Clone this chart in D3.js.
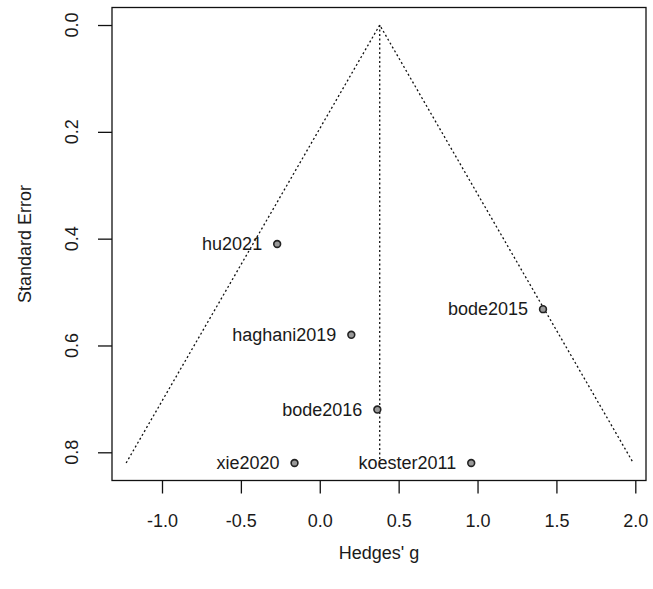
<!DOCTYPE html>
<html><head><meta charset="utf-8">
<script src="https://cdn.jsdelivr.net/npm/d3@7"></script>
<style>body{margin:0;background:#fff}svg{display:block}text{font-family:"Liberation Sans",Arial,sans-serif;fill:#1a1a1a}</style>
</head><body><svg id="c" width="653" height="589"></svg>
<script>
const studies = ["hu2021","bode2015","haghani2019","bode2016","xie2020","koester2011"];
const hedgesG = [-0.27, 1.415, 0.20, 0.365, -0.16, 0.96];
const stdErr = [0.41, 0.532, 0.58, 0.72, 0.82, 0.82];
const pooled = 0.38;
const xTicks = [-1.0,-0.5,0.0,0.5,1.0,1.5,2.0];
const yTicks = [0.0,0.2,0.4,0.6,0.8];

const FS = 18;
const svg = d3.select("#c");
const L=112, R=646, T=7.5, B=480.5;
const xs = d3.scaleLinear().domain([-1,2]).range([162,635.3]);
const seMax = d3.max(stdErr);
const ys = d3.scaleLinear().domain([-0.04*seMax, seMax*1.04]).range([T,B]);

// funnel
const z = 1.96;
const fun = [[pooled - z*seMax, seMax],[pooled,0],[pooled + z*seMax, seMax]];
svg.append("path").attr("d", d3.line().x(d=>xs(d[0])).y(d=>ys(d[1]))(fun))
  .attr("fill","none").attr("stroke","#111").attr("stroke-width",1.3).attr("stroke-dasharray","2,2.5");
svg.append("line").attr("x1",xs(pooled)).attr("x2",xs(pooled)).attr("y1",ys(0)).attr("y2",ys(seMax))
  .attr("stroke","#111").attr("stroke-width",1.3).attr("stroke-dasharray","2,2.5");

// points
const g = svg.append("g");
studies.forEach((s,i)=>{
  g.append("circle").attr("cx",xs(hedgesG[i])).attr("cy",ys(stdErr[i])).attr("r",3.4)
   .attr("fill","#999").attr("stroke","#222").attr("stroke-width",1.6);
  g.append("text").attr("x",xs(hedgesG[i])-15).attr("y",ys(stdErr[i])).attr("dy","0.35em")
   .attr("text-anchor","end").attr("font-size",FS).text(s);
});

// box
svg.append("rect").attr("x",L).attr("y",T).attr("width",R-L).attr("height",B-T)
  .attr("fill","none").attr("stroke","#111").attr("stroke-width",1.3);

// x axis
const xa = svg.append("g").attr("transform",`translate(0,${B})`)
  .call(d3.axisBottom(xs).tickValues(xTicks).tickSize(13).tickFormat(d3.format(".1f")));
xa.select(".domain").remove();
xa.selectAll("line").attr("stroke","#111").attr("stroke-width",1.3);
xa.selectAll("text").attr("font-size",FS).attr("fill","#1a1a1a").attr("dy","0.35em").attr("y",40)
  .style("font-family","Liberation Sans, Arial, sans-serif").text(d=>d3.format(".1f")(d).replace("−","-"));

// y axis
const ya = svg.append("g").attr("transform",`translate(${L},0)`)
  .call(d3.axisLeft(ys).tickValues(yTicks).tickSize(14).tickFormat(""));
ya.select(".domain").remove();
ya.selectAll("line").attr("stroke","#111").attr("stroke-width",1.3);
yTicks.forEach(t=>{
  svg.append("text").attr("transform",`translate(72,${ys(t)}) rotate(-90)`)
    .attr("text-anchor","middle").attr("dy","0.35em").attr("font-size",FS).text(d3.format(".1f")(t));
});

// axis titles
svg.append("text").attr("x",(L+R)/2).attr("y",553).attr("dy","0.35em").attr("text-anchor","middle")
  .attr("font-size",FS).text("Hedges' g");
svg.append("text").attr("transform",`translate(25,${(T+B)/2}) rotate(-90)`).attr("dy","0.35em")
  .attr("text-anchor","middle").attr("font-size",FS).text("Standard Error");
</script></body></html>
